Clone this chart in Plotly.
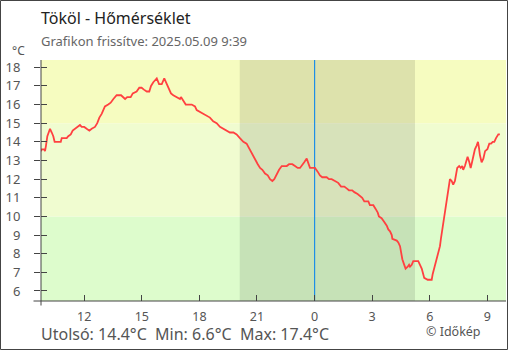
import plotly.graph_objects as go

# Temperature series: hours since midnight of the first day (24 = midnight), °C
hours = [
    9.75, 9.79, 9.91, 9.96, 10.01, 10.08, 10.15, 10.22, 10.31, 10.39, 10.46, 10.57,
    10.78, 10.83, 11.09, 11.17, 11.30, 11.40, 11.52, 11.64, 11.78, 11.87, 12.00, 12.13,
    12.27, 12.39, 12.56, 12.68, 12.79, 12.91, 12.99, 13.08, 13.25, 13.38, 13.52, 13.69,
    13.92, 14.04, 14.13, 14.24, 14.42, 14.53, 14.73, 14.87, 14.99, 15.11, 15.26, 15.39,
    15.48, 15.60, 15.78, 15.90, 16.04, 16.17, 16.30, 16.42, 16.52, 16.64, 16.82, 16.99,
    17.04, 17.16, 17.29, 17.60, 17.77, 17.86, 18.03, 18.26, 18.38, 18.55, 18.72, 18.90,
    19.07, 19.24, 19.42, 19.59, 19.77, 19.94, 20.11, 20.29, 20.46, 20.61, 20.76, 20.90,
    21.04, 21.16, 21.28, 21.42, 21.56, 21.68, 21.80, 21.90, 22.03, 22.15, 22.29, 22.55,
    22.67, 22.84, 22.98, 23.12, 23.24, 23.36, 23.46, 23.59, 23.67, 23.76, 23.88, 24.02,
    24.16, 24.28, 24.40, 24.63, 24.75, 24.89, 25.06, 25.23, 25.38, 25.55, 25.67, 25.79,
    25.96, 26.07, 26.24, 26.36, 26.48, 26.59, 26.80, 26.88, 27.06, 27.18, 27.29, 27.35,
    27.49, 27.63, 27.76, 27.84, 27.93, 28.02, 28.05, 28.28, 28.36, 28.45, 28.50, 28.57,
    28.67, 28.74, 28.85, 28.92, 28.97, 29.06, 29.14, 29.40, 29.49, 29.58, 29.66, 29.71,
    29.89, 30.01, 30.10, 30.15, 30.23, 30.30, 30.38, 30.44, 30.53, 30.58, 30.65, 30.71,
    30.76, 30.81, 30.88, 30.93, 31.00, 31.05, 31.14, 31.22, 31.31, 31.36, 31.43, 31.53,
    31.61, 31.69, 31.74, 31.83, 31.88, 31.97, 32.06, 32.13, 32.20, 32.27, 32.35, 32.44,
    32.51, 32.56, 32.61, 32.70, 32.79, 32.88, 33.00, 33.10, 33.19, 33.28, 33.36, 33.45,
    33.57, 33.65,
]
temps = [
    13.5, 13.6, 13.6, 13.5, 13.8, 14.3, 14.5, 14.7, 14.5, 14.3, 14.0, 14.0,
    14.0, 14.2, 14.2, 14.3, 14.4, 14.6, 14.7, 14.8, 14.9, 14.8, 14.8, 14.7,
    14.6, 14.7, 14.8, 15.0, 15.3, 15.5, 15.7, 15.9, 16.0, 16.1, 16.3, 16.5,
    16.5, 16.4, 16.3, 16.4, 16.4, 16.6, 16.7, 16.9, 16.9, 16.8, 16.7, 16.7,
    17.0, 17.2, 17.4, 17.1, 17.1, 17.4, 17.1, 16.9, 16.6, 16.5, 16.4, 16.3,
    16.4, 16.2, 16.0, 16.0, 15.9, 15.7, 15.6, 15.5, 15.4, 15.3, 15.1, 15.0,
    14.8, 14.7, 14.6, 14.5, 14.5, 14.4, 14.2, 14.0, 13.9, 13.6, 13.3, 13.1,
    12.8, 12.6, 12.5, 12.3, 12.2, 12.0, 11.9, 12.0, 12.3, 12.5, 12.7, 12.7,
    12.8, 12.8, 12.7, 12.6, 12.6, 12.8, 12.9, 13.1, 12.9, 12.6, 12.6, 12.6,
    12.4, 12.2, 12.1, 12.1, 12.0, 12.0, 11.9, 11.8, 11.6, 11.6, 11.5, 11.4,
    11.4, 11.3, 11.2, 11.1, 11.0, 10.8, 10.8, 10.6, 10.6, 10.4, 10.2, 10.0,
    9.9, 9.7, 9.5, 9.3, 9.2, 9.0, 8.8, 8.7, 8.6, 8.4, 8.0, 7.7,
    7.4, 7.2, 7.3, 7.4, 7.3, 7.4, 7.6, 7.6, 7.4, 7.2, 6.9, 6.7,
    6.6, 6.6, 6.6, 6.9, 7.2, 7.5, 7.8, 8.1, 8.4, 8.8, 9.3, 9.7,
    10.1, 10.4, 10.9, 11.3, 11.7, 12.0, 11.9, 11.7, 11.9, 12.2, 12.6, 12.7,
    12.6, 12.7, 12.5, 12.7, 12.9, 13.2, 12.9, 12.6, 12.9, 13.3, 13.6, 13.8,
    14.0, 13.7, 13.3, 12.9, 13.1, 13.5, 13.6, 13.9, 13.9, 14.0, 14.0, 14.2,
    14.4, 14.4,
]

# Axis ticks
x_tickvals = [12, 15, 18, 21, 24, 27, 30, 33]
x_ticktext = ["12", "15", "18", "21", "0", "3", "6", "9"]
y_tickvals = list(range(6, 19))

# Temperature bands (°C) and their fill colours
band_edges = [5.0, 10.0, 15.0, 19.0]
band_colors = ["#ddfccc", "#f0fcd0", "#f6fcc0"]

# Night period and midnight marker (hours)
sunset = 20.1
sunrise = 29.23
midnight = 24.0

x_range = [9.75, 33.97]
y_range = [5.46, 18.39]

last_t = temps[-1]
min_t = min(temps)
max_t = max(temps)

FONT = "Noto Sans"
W, H = 510, 350
ML, MR, MT, MB = 41, 4, 60, 49
PW, PH = W - ML - MR, H - MT - MB


def px(xpix):
    return (xpix - ML) / PW


def py(ypix):
    return (H - MB - ypix) / PH


fig = go.Figure()
fig.add_trace(go.Scatter(
    x=hours, y=temps, mode="lines",
    line=dict(color="#ff4040", width=1.8),
    hoverinfo="skip", showlegend=False,
))
# empty trace to carry the inner tick axes
fig.add_trace(go.Scatter(x=[], y=[], xaxis="x2", yaxis="y2", showlegend=False))

shapes = []
for lo, hi, col in zip(band_edges[:-1], band_edges[1:], band_colors):
    shapes.append(dict(type="rect", xref="x domain", yref="y", x0=0, x1=1,
                       y0=lo, y1=hi, fillcolor=col, line_width=0, layer="below"))
shapes.append(dict(type="rect", xref="x", yref="y domain", x0=sunset, x1=sunrise,
                   y0=0, y1=1, fillcolor="rgba(0,0,0,0.1)", line_width=0, layer="below"))
shapes.append(dict(type="line", xref="x", yref="y domain", x0=midnight, x1=midnight,
                   y0=0, y1=1, line=dict(color="#1e8fe6", width=1.2), layer="below"))
# axis lines slightly overshooting the corner
shapes.append(dict(type="line", xref="paper", yref="paper", x0=px(33.5), x1=1,
                   y0=0, y1=0, line=dict(color="#444", width=1)))
shapes.append(dict(type="line", xref="paper", yref="paper", x0=0, x1=0,
                   y0=py(305.5), y1=1, line=dict(color="#444", width=1)))
# outer frame
shapes.append(dict(type="rect", xref="paper", yref="paper",
                   x0=px(0.5), x1=px(W - 2.5), y0=py(H - 0.5), y1=py(0.5),
                   line=dict(color="#444", width=1), fillcolor="rgba(0,0,0,0)"))

annotations = [
    dict(text="Tököl - Hőmérséklet", x=px(38.5), y=py(18.5), xanchor="left", yanchor="middle",
         font=dict(family=FONT, size=16, color="#222")),
    dict(text="Grafikon frissítve: 2025.05.09 9:39", x=px(38.5), y=py(40.5),
         xanchor="left", yanchor="middle", font=dict(family=FONT, size=13, color="#666")),
    dict(text="°C", x=px(10.5), y=py(51), xanchor="left", yanchor="middle",
         font=dict(family=FONT, size=12, color="#555")),
    dict(text=f"Utolsó: {last_t:.1f}°C  Min: {min_t:.1f}°C  Max: {max_t:.1f}°C",
         x=px(38.5), y=py(334), xanchor="left", yanchor="middle",
         font=dict(family=FONT, size=16, color="#555")),
    dict(text="© Időkép", x=px(423.5), y=py(331.5), xanchor="left", yanchor="middle",
         font=dict(family=FONT, size=12.5, color="#555")),
]
for a in annotations:
    a.update(xref="paper", yref="paper", showarrow=False)

fig.update_layout(
    width=W, height=H,
    margin=dict(l=ML, r=MR, t=MT, b=MB),
    paper_bgcolor="white", plot_bgcolor="white",
    font=dict(family=FONT, size=12, color="#555"),
    shapes=shapes, annotations=annotations,
    xaxis=dict(range=x_range, tickvals=x_tickvals, ticktext=x_ticktext,
               ticks="inside", ticklen=6, tickcolor="#444", tickwidth=1,
               showgrid=False, zeroline=False, showline=False,
               ticklabelstandoff=6, tickfont=dict(size=12.5, color="#555")),
    yaxis=dict(range=y_range, tickvals=y_tickvals,
               ticks="outside", ticklen=6, tickcolor="#444", tickwidth=1,
               showgrid=False, zeroline=False, showline=False,
               ticklabelstandoff=11, tickfont=dict(size=13, color="#555")),
    xaxis2=dict(range=x_range, overlaying="x", visible=False),
    yaxis2=dict(range=y_range, tickvals=y_tickvals, overlaying="y", anchor="x",
                ticks="inside", ticklen=6, tickcolor="#444", tickwidth=1,
                showticklabels=False, showgrid=False, zeroline=False, showline=False),
)

fig.write_html("out.html")
